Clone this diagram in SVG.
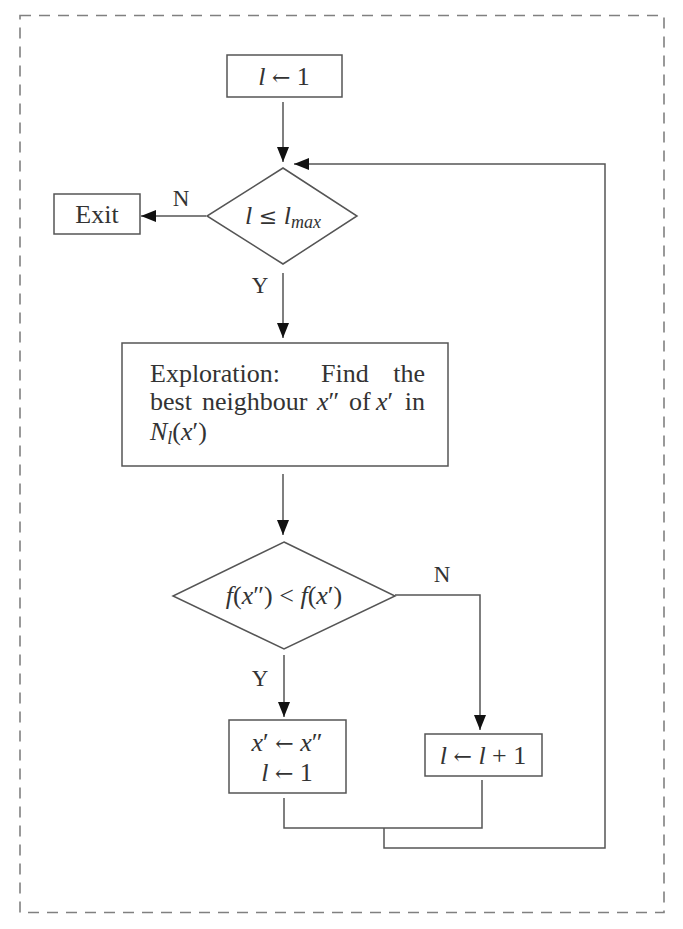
<svg xmlns="http://www.w3.org/2000/svg" width="683" height="929" viewBox="0 0 683 929">
<style>
.bg{fill:#ffffff}
.frame{fill:none;stroke:#808080;stroke-width:1.6;stroke-dasharray:11 8}
.node{fill:#ffffff;stroke:#555555;stroke-width:1.5}
.conn{fill:none;stroke:#555555;stroke-width:1.5}
.t{font-family:"Liberation Serif","DejaVu Serif",serif;font-size:26px;fill:#333333}
.m{text-anchor:middle}
.i{font-style:italic}
.ar{font-family:"DejaVu Serif",serif;font-size:22px}
.sub{font-size:18px;font-style:italic}
.lbl{font-family:"Liberation Serif","DejaVu Serif",serif;font-size:23px;fill:#333333;text-anchor:middle}
</style>
<defs>
<marker id="ah" markerUnits="userSpaceOnUse" markerWidth="16" markerHeight="12" refX="15" refY="6" orient="auto">
<path d="M0,0 L15,6 L0,12 Z" fill="#111111"/>
</marker>
</defs>
<rect class="bg" x="0" y="0" width="683" height="929"/>
<rect class="frame" x="20" y="15.5" width="644" height="897"/>

<g id="connectors">
<path class="conn" d="M283,102 L283,162" marker-end="url(#ah)"/>
<path class="conn" d="M206,216 L141,216" marker-end="url(#ah)"/>
<path class="conn" d="M283,273 L283,338" marker-end="url(#ah)"/>
<path class="conn" d="M283,474 L283,535" marker-end="url(#ah)"/>
<path class="conn" d="M395,595 L480,595 L480,730" marker-end="url(#ah)"/>
<path class="conn" d="M284,655 L284,717" marker-end="url(#ah)"/>
<path class="conn" d="M284,798 L284,828 L482,828 L482,780"/>
<path class="conn" d="M384,828 L384,848 L605,848 L605,164 L294,164" marker-end="url(#ah)"/>
<text class="lbl" x="181" y="206">N</text>
<text class="lbl" x="260" y="293">Y</text>
<text class="lbl" x="442" y="582">N</text>
<text class="lbl" x="260" y="686">Y</text>
</g>

<g id="init">
<rect class="node" x="227" y="55" width="115" height="42"/>
<text class="t m" x="284" y="85"><tspan class="i">l</tspan> <tspan class="ar">←</tspan> 1</text>
</g>

<g id="cond1">
<polygon class="node" points="283,168 357,216 283,264 207,216"/>
<text class="t m" x="283" y="224"><tspan class="i">l</tspan> <tspan class="ar">≤</tspan> <tspan class="i">l</tspan><tspan class="sub" dy="4">max</tspan></text>
</g>

<g id="exit">
<rect class="node" x="54" y="194" width="86" height="40"/>
<text class="t m" x="97" y="223">Exit</text>
</g>

<g id="explore">
<rect class="node" x="122" y="343" width="326" height="123"/>
<text class="t" y="382"><tspan x="150">Exploration:</tspan><tspan x="321">Find</tspan><tspan x="425" text-anchor="end">the</tspan></text>
<text class="t" y="410"><tspan x="150">best</tspan><tspan x="202">neighbour</tspan><tspan x="317" class="i">x</tspan><tspan>″</tspan><tspan x="349">of</tspan><tspan x="376" class="i">x</tspan><tspan>′</tspan><tspan x="425" text-anchor="end">in</tspan></text>
<text class="t" x="150" y="440"><tspan class="i">N</tspan><tspan class="sub" dy="4">l</tspan><tspan dy="-4">(</tspan><tspan class="i">x</tspan>′)</text>
</g>

<g id="cond2">
<polygon class="node" points="284,542 395,596 284,649 173,596"/>
<text class="t m" x="284" y="604"><tspan class="i">f</tspan>(<tspan class="i">x</tspan>″) &lt; <tspan class="i">f</tspan>(<tspan class="i">x</tspan>′)</text>
</g>

<g id="update">
<rect class="node" x="229" y="720" width="117" height="73"/>
<text class="t m" x="287" y="751"><tspan class="i">x</tspan>′ <tspan class="ar">←</tspan> <tspan class="i">x</tspan>″</text>
<text class="t m" x="287" y="781"><tspan class="i">l</tspan> <tspan class="ar">←</tspan> 1</text>
</g>

<g id="increment">
<rect class="node" x="425" y="734" width="117" height="42"/>
<text class="t m" x="483" y="764"><tspan class="i">l</tspan> <tspan class="ar">←</tspan> <tspan class="i">l</tspan> + 1</text>
</g>
</svg>
